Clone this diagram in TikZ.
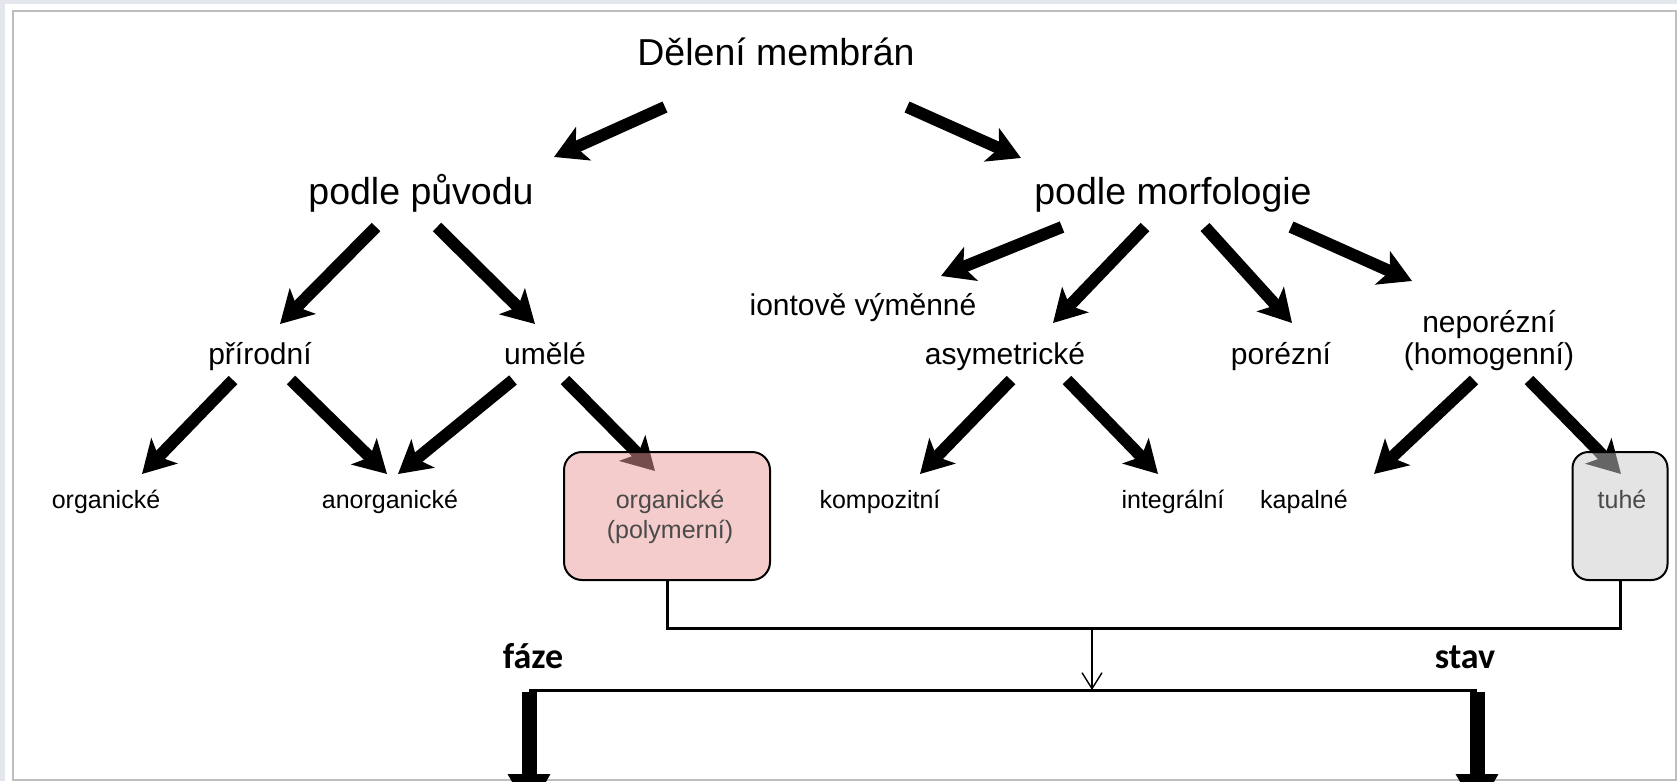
\documentclass[tikz,border=0pt]{standalone}
\usepackage{fontspec}
\setmainfont{Liberation Sans}
\newfontfamily\calib{Carlito}
\usetikzlibrary{arrows.meta}
\definecolor{bandblue}{HTML}{E3E6EC}
\definecolor{framegray}{HTML}{BEBEBE}
\definecolor{pinkfill}{HTML}{EC9A9A}
\definecolor{grayfill}{HTML}{CACACA}
\definecolor{boxtext}{HTML}{4A4A4A}
\begin{document}
\begin{tikzpicture}[x=1pt,y=-1pt,
  lvlone/.style={font=\fontsize{37.5}{40}\selectfont, inner sep=0pt, anchor=base},
  lvltwo/.style={font=\fontsize{30}{33}\selectfont, inner sep=0pt, anchor=base},
  lvlthree/.style={font=\fontsize{25}{28}\selectfont, inner sep=0pt, anchor=base},
  boxlabel/.style={font=\fontsize{25}{28}\selectfont, inner sep=0pt, anchor=base, text=boxtext},
  bigarrow/.style={line width=12pt, -{Stealth[length=32pt,width=36pt,inset=8pt]}},
  roundbox/.style={draw=black, line width=2pt, rounded corners=18pt, fill opacity=0.5, draw opacity=1},
  conn/.style={line width=3pt},
  thinarrow/.style={line width=1.4pt, -{Straight Barb[length=16pt,width=20pt]}},
  downarrow/.style={line width=15pt, -{Triangle[length=38pt,width=40pt]}},
  boldlabel/.style={font=\calib\bfseries\fontsize{36}{40}\selectfont, inner sep=0pt, anchor=base}
]
\useasboundingbox (0,0) rectangle (1677,781);
\fill[white] (0,0) rectangle (1677,781);
\fill[bandblue] (0,0) rectangle (1677,4);
\fill[bandblue] (0,0) rectangle (5,781);
\draw[framegray, line width=2pt] (13,11) rectangle (1676,780);

% texts
\node[lvlone] (root) at (776,66) {Dělení membrán};
\node[lvlone] (puvod) at (421,204) {podle původu};
\node[lvlone] (morf) at (1173,204) {podle morfologie};
\node[lvltwo] (prir) at (260,364) {přírodní};
\node[lvltwo] (umel) at (545,364) {umělé};
\node[lvltwo] (iont) at (863,315) {iontově výměnné};
\node[lvltwo] (asym) at (1005,364) {asymetrické};
\node[lvltwo] (porez) at (1281,364) {porézní};
\node[lvltwo] (nepor) at (1489,332) {neporézní};
\node[lvltwo] (homog) at (1489,364) {(homogenní)};
\node[lvlthree] (org) at (106,508) {organické};
\node[lvlthree] (anorg) at (390,508) {anorganické};
\node[lvlthree] (kompo) at (880,508) {kompozitní};
\node[lvlthree] (integ) at (1173,508) {integrální};
\node[lvlthree] (kapal) at (1304,508) {kapalné};

% arrow end points
\coordinate (root-l) at (665,107);  \coordinate (puvod-in) at (554,157);
\coordinate (root-r) at (907,107);  \coordinate (morf-in) at (1021,158);
\coordinate (puvod-l) at (376,227); \coordinate (prir-in) at (280,324);
\coordinate (puvod-r) at (437,227); \coordinate (umel-in) at (535,324);
\coordinate (morf-a) at (1062,227); \coordinate (iont-in) at (941,276);
\coordinate (morf-b) at (1145,227); \coordinate (asym-in) at (1053,323);
\coordinate (morf-c) at (1205,227); \coordinate (porez-in) at (1292,323);
\coordinate (morf-d) at (1291,227); \coordinate (nepor-in) at (1412,281);
\coordinate (prir-l) at (233,380);  \coordinate (org-in) at (142,474);
\coordinate (prir-r) at (291,380);  \coordinate (anorg-inl) at (387,474);
\coordinate (umel-l) at (513,380);  \coordinate (anorg-inr) at (398,474);
\coordinate (umel-r) at (565,380);  \coordinate (poly-in) at (655,471);
\coordinate (asym-l) at (1011,380); \coordinate (kompo-in) at (920,474);
\coordinate (asym-r) at (1067,380); \coordinate (integ-in) at (1158,474);
\coordinate (homog-l) at (1474,380); \coordinate (kapal-in) at (1374,474);
\coordinate (homog-r) at (1529,380); \coordinate (tuhe-in) at (1621,474);

\draw[bigarrow] (root-l) -- (puvod-in);
\draw[bigarrow] (root-r) -- (morf-in);
\draw[bigarrow] (puvod-l) -- (prir-in);
\draw[bigarrow] (puvod-r) -- (umel-in);
\draw[bigarrow] (morf-a) -- (iont-in);
\draw[bigarrow] (morf-b) -- (asym-in);
\draw[bigarrow] (morf-c) -- (porez-in);
\draw[bigarrow] (morf-d) -- (nepor-in);
\draw[bigarrow] (prir-l) -- (org-in);
\draw[bigarrow] (prir-r) -- (anorg-inl);
\draw[bigarrow] (umel-l) -- (anorg-inr);
\draw[bigarrow] (umel-r) -- (poly-in);
\draw[bigarrow] (asym-l) -- (kompo-in);
\draw[bigarrow] (asym-r) -- (integ-in);
\draw[bigarrow] (homog-l) -- (kapal-in);
\draw[bigarrow] (homog-r) -- (tuhe-in);

% boxes
\node[roundbox, fill=pinkfill, minimum width=206pt, minimum height=128pt] (poly) at (667,516) {};
\node[roundbox, fill=grayfill, minimum width=95pt, minimum height=128pt, rounded corners=16pt] (tuhe) at (1620,516) {};
\node[boxlabel] (polyone) at (670,508) {organické};
\node[boxlabel] (polytwo) at (670,538) {(polymerní)};
\node[boxlabel] (tuhetext) at (1622,508) {tuhé};

% connectors
\draw[conn] (poly.south) -- ++(0,47) coordinate (busl) -| (tuhe.south);
\coordinate (mid) at (1092,628);
\coordinate (midend) at (1092,690);
\draw[thinarrow] (mid) -- (midend);
\coordinate (fazetop) at (529,690);
\coordinate (stavtop) at (1477,690);
\coordinate (fazeend) at (529,812);
\coordinate (stavend) at (1477,812);
\draw[conn] (fazetop) -- (stavtop);
\begin{scope}
\clip (0,0) rectangle (1677,781);
\draw[downarrow] ([yshift=-1.5pt]fazetop) -- (fazeend);
\draw[downarrow] ([yshift=-1.5pt]stavtop) -- (stavend);
\end{scope}
\node[boldlabel] (faze) at (533,668) {fáze};
\node[boldlabel] (stav) at (1465,668) {stav};
\end{tikzpicture}
\end{document}
